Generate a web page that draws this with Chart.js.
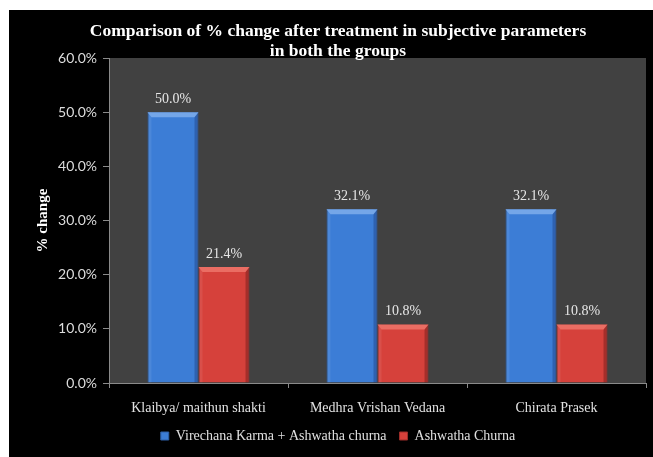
<!DOCTYPE html>
<html>
<head>
<meta charset="utf-8">
<script src="https://cdn.jsdelivr.net/npm/chart.js@4.4.1/dist/chart.umd.min.js"></script>
<style>
  html, body { margin: 0; padding: 0; background: #fff; }
</style>
</head>
<body>
<canvas id="bar" width="653" height="457"></canvas>
<script>
const categories = ["Klaibya/ maithun shakti", "Medhra Vrishan Vedana", "Chirata Prasek"];
const seriesNames = ["Virechana Karma + Ashwatha churna", "Ashwatha Churna"];
const virechanaValues = [50.0, 32.1, 32.1];
const ashwathaValues = [21.4, 10.8, 10.8];
const yTicks = [0, 10, 20, 30, 40, 50, 60];

const serif = "'Liberation Serif', 'Times New Roman', serif";

// black frame with white margin, dark grey plot area
const frame = {
  id: "frame",
  beforeDraw(chart) {
    const { ctx, width, height, chartArea: a } = chart;
    ctx.save();
    ctx.fillStyle = "#ffffff";
    ctx.fillRect(0, 0, width, height);
    ctx.fillStyle = "#000000";
    ctx.fillRect(9, 10, width - 9, height - 10);
    ctx.fillStyle = "#414141";
    ctx.fillRect(a.left, a.top, a.right - a.left, a.bottom - a.top);
    ctx.restore();
  },
};

// bevelled tops on the bars + value labels above them
const bevel = {
  id: "bevel",
  afterDatasetsDraw(chart) {
    const { ctx } = chart;
    const shades = [
      { top: "#74a6e8", side: "rgba(255,255,255,0.08)", dark: "rgba(0,0,40,0.22)" },
      { top: "#ea6d63", side: "rgba(255,255,255,0.08)", dark: "rgba(40,0,0,0.28)" },
    ];
    ctx.save();
    chart.data.datasets.forEach((ds, i) => {
      const meta = chart.getDatasetMeta(i);
      meta.data.forEach((bar, j) => {
        const l = bar.x - bar.width / 2;
        const r = bar.x + bar.width / 2;
        const t = bar.y;
        const b = bar.base;
        ctx.fillStyle = shades[i].side;
        ctx.fillRect(l + 1, t, 3, b - t);
        ctx.fillStyle = shades[i].dark;
        ctx.fillRect(r - 4, t, 3, b - t);
        ctx.fillStyle = shades[i].top;
        ctx.beginPath();
        ctx.moveTo(l, t);
        ctx.lineTo(r, t);
        ctx.lineTo(r - 4, t + 5);
        ctx.lineTo(l + 4, t + 5);
        ctx.closePath();
        ctx.fill();

        ctx.fillStyle = "#e6e6e6";
        ctx.font = "14px " + serif;
        ctx.textAlign = "center";
        ctx.textBaseline = "middle";
        ctx.fillText(ds.data[j].toFixed(1) + "%", bar.x, t - 13);
      });
    });
    ctx.restore();
  },
};

new Chart(document.querySelector("#bar"), {
  type: "bar",
  plugins: [frame, bevel],
  data: {
    labels: categories,
    datasets: [
      {
        label: seriesNames[0],
        data: virechanaValues,
        backgroundColor: "#3c7dd6",
        borderColor: "#2c5ea6",
        borderWidth: 1,
      },
      {
        label: seriesNames[1],
        data: ashwathaValues,
        backgroundColor: "#d6413b",
        borderColor: "#9c2d29",
        borderWidth: 1,
      },
    ],
  },
  options: {
    responsive: false,
    animation: false,
    events: [],
    datasets: {
      bar: { barPercentage: 1, categoryPercentage: 0.57 },
    },
    layout: { padding: { left: 30, right: 7, top: 0, bottom: 4 } },
    plugins: {
      title: {
        display: true,
        text: ["Comparison of % change after treatment in subjective parameters", "in both the groups"],
        color: "#ffffff",
        font: { family: serif, size: 17.5, weight: "bold", lineHeight: 1.143 },
        padding: { top: 21, bottom: -3 },
      },
      legend: {
        position: "bottom",
        labels: {
          color: "#e0e0e0",
          font: { family: serif, size: 14 },
          boxWidth: 8,
          boxHeight: 8,
          padding: 13,
        },
      },
      tooltip: { enabled: false },
    },
    scales: {
      x: {
        afterFit(s) { s.height = 33; },
        border: { color: "#8a8a8a" },
        grid: { drawOnChartArea: false, tickLength: 5, color: "#8a8a8a" },
        ticks: { color: "#e2e2e2", font: { family: serif, size: 14 }, padding: 12 },
      },
      y: {
        min: 0,
        max: 60,
        afterFit(s) { s.width = 79; },
        afterBuildTicks(s) { s.ticks = yTicks.map(v => ({ value: v })); },
        border: { color: "#8a8a8a" },
        grid: { drawOnChartArea: false, tickLength: 6, color: "#8a8a8a" },
        ticks: {
          color: "#dcdcdc",
          font: { family: "Lato, 'Open Sans', sans-serif", size: 14 },
          padding: 6,
          callback: v => v.toFixed(1) + "%",
        },
        title: {
          display: true,
          text: "% change",
          color: "#ffffff",
          font: { family: serif, size: 15, weight: "bold" },
        },
      },
    },
  },
});
</script>
</body>
</html>
